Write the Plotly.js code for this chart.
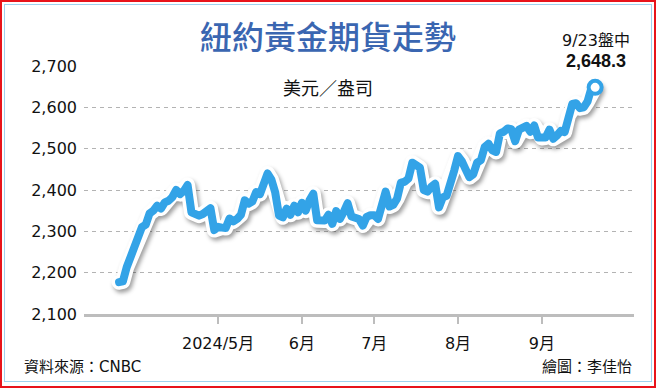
<!DOCTYPE html>
<html>
<head>
<meta charset="utf-8">
<script src="https://cdn.plot.ly/plotly-3.0.1.min.js"></script>
<style>
  html, body { margin: 0; padding: 0; background: #fff; }
  #wrap { position: relative; width: 656px; height: 388px; overflow: hidden; }
  #chart { position: absolute; left: 0; top: 0; width: 656px; height: 388px; }
  #outer { position: absolute; left: 0; top: 0; width: 656px; height: 388px; box-sizing: border-box; border: 2px solid #e8141b; pointer-events: none; }
  #inner { position: absolute; left: 4px; top: 4px; width: 648px; height: 378px; box-sizing: border-box; border: 1.5px solid #9fd2ef; pointer-events: none; }
  .scatterlayer path.js-line { stroke-linejoin: round !important; stroke-linecap: round !important; }
  .scatterlayer .trace:first-of-type path.js-line { filter: drop-shadow(2px 3px 2px rgba(0,0,0,0.38)); }
</style>
</head>
<body>
<div id="wrap">
  <div id="chart"></div>
  <div id="outer"></div>
  <div id="inner"></div>
</div>
<script>
// ---- data (trading days, USD per ounce) ----
const dates = [
  '2024-03-25','2024-03-26','2024-03-27','2024-03-28',
  '2024-04-01','2024-04-02','2024-04-03','2024-04-04','2024-04-05','2024-04-08','2024-04-09','2024-04-10','2024-04-11','2024-04-12',
  '2024-04-15','2024-04-16','2024-04-17','2024-04-18','2024-04-19','2024-04-22','2024-04-23','2024-04-24','2024-04-25','2024-04-26',
  '2024-04-29','2024-04-30',
  '2024-05-01','2024-05-02','2024-05-03','2024-05-06','2024-05-07','2024-05-08','2024-05-09','2024-05-10','2024-05-13','2024-05-14',
  '2024-05-15','2024-05-16','2024-05-17','2024-05-20','2024-05-21','2024-05-22','2024-05-23','2024-05-24','2024-05-28','2024-05-29',
  '2024-05-30','2024-05-31',
  '2024-06-03','2024-06-04','2024-06-05','2024-06-06','2024-06-07','2024-06-10','2024-06-11','2024-06-12','2024-06-13','2024-06-14',
  '2024-06-17','2024-06-18','2024-06-20','2024-06-21','2024-06-24','2024-06-25','2024-06-26','2024-06-27','2024-06-28',
  '2024-07-01','2024-07-02','2024-07-03','2024-07-05','2024-07-08','2024-07-09','2024-07-10','2024-07-11','2024-07-12','2024-07-15',
  '2024-07-16','2024-07-17','2024-07-18','2024-07-19','2024-07-22','2024-07-23','2024-07-24','2024-07-25','2024-07-26','2024-07-29',
  '2024-07-30','2024-07-31',
  '2024-08-01','2024-08-02','2024-08-05','2024-08-06','2024-08-07','2024-08-08','2024-08-09','2024-08-12','2024-08-13','2024-08-14',
  '2024-08-15','2024-08-16','2024-08-19','2024-08-20','2024-08-21','2024-08-22','2024-08-23','2024-08-26','2024-08-27','2024-08-28',
  '2024-08-29','2024-08-30',
  '2024-09-03','2024-09-04','2024-09-05','2024-09-06','2024-09-09','2024-09-10','2024-09-11','2024-09-12','2024-09-13','2024-09-16',
  '2024-09-17','2024-09-18','2024-09-19','2024-09-20','2024-09-23'
];
const prices = [
  2177, 2179, 2213, 2236,
  2252, 2281, 2310, 2316, 2343, 2350, 2362, 2355, 2370, 2374,
  2383, 2400, 2390, 2398, 2412, 2346, 2341, 2338, 2342, 2348,
  2356, 2303,
  2311, 2309, 2308, 2331, 2324, 2330, 2340, 2375, 2367, 2372,
  2395, 2390, 2417, 2440, 2425, 2394, 2338, 2334, 2355, 2340,
  2362, 2346,
  2369, 2350, 2375, 2391, 2327, 2328, 2326, 2340, 2318, 2349,
  2330, 2347, 2368, 2336, 2331, 2330, 2314, 2335, 2339,
  2339, 2330, 2368, 2396, 2360, 2364, 2379, 2418, 2420, 2428,
  2466, 2460, 2454, 2400, 2396, 2408, 2415, 2358, 2382, 2386,
  2410, 2447,
  2482, 2470, 2450, 2431, 2438, 2466, 2472, 2504, 2512, 2496,
  2492, 2537, 2541, 2549, 2547, 2518, 2546, 2550, 2555, 2541,
  2556, 2527,
  2526, 2527, 2546, 2524, 2532, 2543, 2540, 2580, 2608, 2610,
  2598, 2600, 2614, 2646, 2648.3
];
const holidays = ['2024-03-29','2024-05-27','2024-06-19','2024-07-04','2024-09-02'];
const monthTickDates = ['2024-05-01','2024-06-03','2024-07-01','2024-08-01','2024-09-03'];
const monthTickLabels = ['2024/5月','6月','7月','8月','9月'];
const yTicks = [2100, 2200, 2300, 2400, 2500, 2600, 2700];

const titleText = '紐約黃金期貨走勢';
const unitText = '美元／盎司';
const lastLabel = '9/23盤中';
const lastValueText = '2,648.3';
const sourceText = '資料來源：CNBC';
const creditText = '繪圖：李佳怡';

// ---- styles ----
const FONT = "'DejaVu Sans', 'Noto Sans CJK TC', sans-serif";
const BLUE = '#33a3e7';

const lastDate = dates[dates.length - 1];
const lastPrice = prices[prices.length - 1];

const traces = [
  { type: 'scatter', mode: 'lines', x: dates, y: prices,
    line: { color: '#ffffff', width: 15 }, hoverinfo: 'skip', showlegend: false },
  { type: 'scatter', mode: 'lines', x: dates, y: prices,
    line: { color: BLUE, width: 8 }, showlegend: false },
  { type: 'scatter', mode: 'markers', x: [lastDate], y: [lastPrice],
    marker: { size: 13, color: '#ffffff', line: { color: BLUE, width: 4 } }, showlegend: false }
];

const layout = {
  width: 656, height: 388,
  margin: { l: 84, r: 22, t: 66, b: 74 },
  paper_bgcolor: '#ffffff', plot_bgcolor: '#ffffff',
  showlegend: false,
  font: { family: FONT, color: '#111' },
  title: {
    text: titleText,
    font: { family: "'Noto Sans CJK TC', sans-serif", size: 32, color: '#3a66b1', weight: 500 },
    xref: 'container', x: 0.5, xanchor: 'center',
    yref: 'container', y: 1 - 38 / 388, yanchor: 'middle'
  },
  xaxis: {
    type: 'date',
    range: ['2024-03-11 19:00', '2024-10-07 05:00'],
    rangebreaks: [ { bounds: ['sat', 'mon'] }, { values: holidays } ],
    tickmode: 'array', tickvals: monthTickDates, ticktext: monthTickLabels,
    ticks: 'outside', ticklen: 7, tickwidth: 1.5, tickcolor: '#bdbdbd',
    ticklabelstandoff: 6,
    showgrid: false, zeroline: false,
    showline: true, linecolor: '#bdbdbd', linewidth: 2.5,
    tickfont: { family: FONT, size: 16, color: '#111' },
    fixedrange: true
  },
  yaxis: {
    range: [2100, 2700],
    tickmode: 'array', tickvals: yTicks, tickformat: ',d',
    showgrid: true, gridcolor: '#b3b3b3', gridwidth: 1, griddash: '4px,4px',
    zeroline: false, showline: false, ticks: '',
    ticklabelstandoff: 6,
    tickfont: { family: FONT, size: 16, color: '#111' },
    fixedrange: true
  },
  annotations: [
    { text: unitText, xref: 'paper', yref: 'paper', x: (328 - 84) / 550, y: (314 - 87) / 248,
      xanchor: 'center', yanchor: 'middle', showarrow: false,
      font: { family: "'Noto Sans CJK TC', sans-serif", size: 18, color: '#111' } },
    { text: lastLabel, xref: 'paper', yref: 'paper', x: (596 - 84) / 550, y: (314 - 41) / 248,
      xanchor: 'center', yanchor: 'middle', showarrow: false,
      font: { family: FONT, size: 16, color: '#111' } },
    { text: '<b>' + lastValueText + '</b>', xref: 'paper', yref: 'paper', x: (596 - 84) / 550, y: (314 - 61) / 248,
      xanchor: 'center', yanchor: 'middle', showarrow: false,
      font: { family: "'Liberation Sans', sans-serif", size: 18, color: '#111' } },
    { text: sourceText, xref: 'paper', yref: 'paper', x: (22 - 84) / 550, y: (314 - 367) / 248,
      xanchor: 'left', yanchor: 'middle', showarrow: false,
      font: { family: FONT, size: 15, color: '#111' } },
    { text: creditText, xref: 'paper', yref: 'paper', x: 1, y: (314 - 367) / 248,
      xanchor: 'right', yanchor: 'middle', showarrow: false,
      font: { family: FONT, size: 15, color: '#111' } }
  ]
};

Plotly.newPlot('chart', traces, layout, { displayModeBar: false, staticPlot: true });
</script>
</body>
</html>
